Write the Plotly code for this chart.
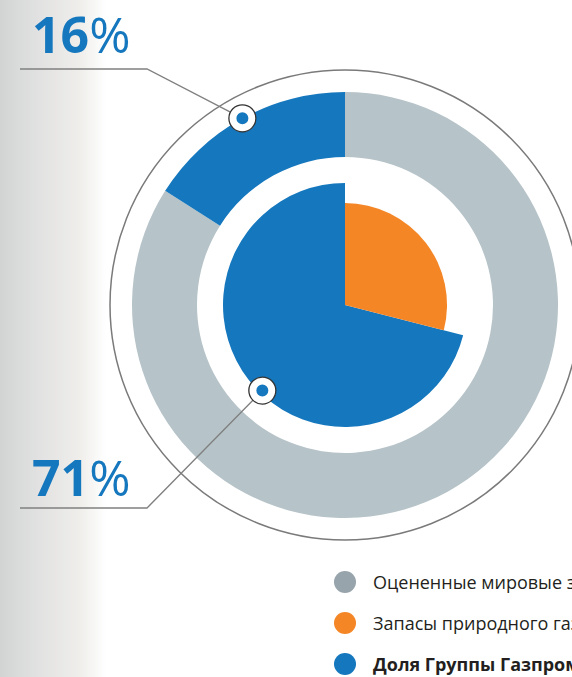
import math
import plotly.graph_objects as go

# ---- data ----
outer_labels = ["Оцененные мировые запасы", "Доля Группы Газпром (мир)"]
outer_values = [84, 16]
inner_labels = ["Запасы природного газа в России", "Доля Группы Газпром (Россия)"]
inner_values = [29, 71]
callout_texts = ["<b>16</b>%", "<b>71</b>%"]
legend_labels = [
    "Оцененные мировые запасы природного газа",
    "Запасы природного газа в России",
    "<b>Доля Группы Газпром</b>",
]

# ---- style / geometry ----
W, H = 572, 677
CX, CY = 345, 305
R_OUT, R_OUT_IN, R_PIE, R_ORANGE, R_FRAME = 213, 148, 122, 102, 235
GRAY_RING = "#B6C3C8"
GRAY_LEG = "#97A4AB"
BLUE = "#1577BD"
ORANGE = "#F48626"
TRANSP = "rgba(0,0,0,0)"


def dom(r):
    return dict(x=[(CX - r) / W, (CX + r) / W], y=[1 - (CY + r) / H, 1 - (CY - r) / H])


fig = go.Figure()

fig.add_trace(go.Pie(
    labels=outer_labels, values=outer_values, hole=R_OUT_IN / R_OUT,
    domain=dom(R_OUT), sort=False, direction="clockwise", rotation=0,
    marker=dict(colors=[GRAY_RING, BLUE], line=dict(width=0)),
    textinfo="none", hoverinfo="label+percent", showlegend=False,
))
fig.add_trace(go.Pie(
    labels=inner_labels, values=inner_values,
    domain=dom(R_PIE), sort=False, direction="clockwise", rotation=0,
    marker=dict(colors=[TRANSP, BLUE], line=dict(width=0)),
    textinfo="none", hoverinfo="label+percent", showlegend=False,
))
fig.add_trace(go.Pie(
    labels=inner_labels, values=inner_values,
    domain=dom(R_ORANGE), sort=False, direction="clockwise", rotation=0,
    marker=dict(colors=[ORANGE, TRANSP], line=dict(width=0)),
    textinfo="none", hoverinfo="label+percent", showlegend=False,
))

shapes = []
# left gradient background
stops = [(0, (210, 212, 212)), (40, (226, 226, 226)), (80, (239, 238, 235)), (106, (255, 255, 255))]


def grad_col(x):
    for (x0, c0), (x1, c1) in zip(stops[:-1], stops[1:]):
        if x0 <= x <= x1:
            t = (x - x0) / (x1 - x0)
            return "rgb(%d,%d,%d)" % tuple(round(a + (b - a) * t) for a, b in zip(c0, c1))
    return "white"


for x in range(0, 106, 2):
    shapes.append(dict(type="rect", xref="x", yref="y", x0=x, x1=x + 2.2, y0=0, y1=H,
                       fillcolor=grad_col(x + 1), line=dict(width=0), layer="below"))

# frame circle
shapes.append(dict(type="circle", xref="x", yref="y", x0=CX - R_FRAME, x1=CX + R_FRAME,
                   y0=CY - R_FRAME, y1=CY + R_FRAME, line=dict(color="#7a7a7a", width=1.5)))

# callout markers: derived from slice angles
ang16 = math.radians(360 - outer_values[1] / sum(outer_values) * 360 / 2)  # clockwise from 12
ang71 = math.radians(224)
markers = [
    (CX + R_OUT * math.sin(ang16), CY - R_OUT * math.cos(ang16)),
    (CX + (R_PIE - 3) * math.sin(ang71), CY - (R_PIE - 3) * math.cos(ang71)),
]
label_y = [69, 508]
elbow_x = 147
MR, DR = 13.5, 6

annotations = []
for (mx, my), ly, txt, ty in zip(markers, label_y, callout_texts, [34, 477]):
    dx, dy = mx - elbow_x, my - ly
    L = math.hypot(dx, dy)
    ex, ey = mx - dx / L * MR, my - dy / L * MR
    shapes.append(dict(type="path", xref="x", yref="y",
                       path=f"M 20 {ly} L {elbow_x} {ly} L {ex:.1f} {ey:.1f}",
                       line=dict(color="#808080", width=1.3)))
    shapes.append(dict(type="circle", xref="x", yref="y", x0=mx - MR, x1=mx + MR,
                       y0=my - MR, y1=my + MR, fillcolor="white",
                       line=dict(color="#333333", width=1.3)))
    shapes.append(dict(type="circle", xref="x", yref="y", x0=mx - DR, x1=mx + DR,
                       y0=my - DR, y1=my + DR, fillcolor=BLUE, line=dict(width=0)))
    annotations.append(dict(x=30, y=ty, xref="x", yref="y", text=txt, showarrow=False,
                            xanchor="left", yanchor="middle",
                            font=dict(family="Open Sans", size=50, color=BLUE)))

# legend
leg_cols = [GRAY_LEG, ORANGE, BLUE]
leg_y = [582, 623, 664]
for col, ly, lab in zip(leg_cols, leg_y, legend_labels):
    shapes.append(dict(type="circle", xref="x", yref="y", x0=334, x1=356, y0=ly - 11, y1=ly + 11,
                       fillcolor=col, line=dict(width=0)))
    annotations.append(dict(x=371, y=ly, xref="x", yref="y", text=lab, showarrow=False,
                            xanchor="left", yanchor="middle",
                            font=dict(family="Open Sans", size=18, color="#231f20")))

fig.update_layout(
    width=W, height=H, margin=dict(l=0, r=0, t=0, b=0),
    paper_bgcolor="white", plot_bgcolor="rgba(0,0,0,0)",
    xaxis=dict(range=[0, W], visible=False, fixedrange=True),
    yaxis=dict(range=[H, 0], visible=False, fixedrange=True),
    shapes=shapes, annotations=annotations, showlegend=False,
)

fig.write_html(
    "out.html",
    config={"displayModeBar": False},
    post_script="document.body.style.margin='0px';document.body.style.overflow='hidden';",
)
